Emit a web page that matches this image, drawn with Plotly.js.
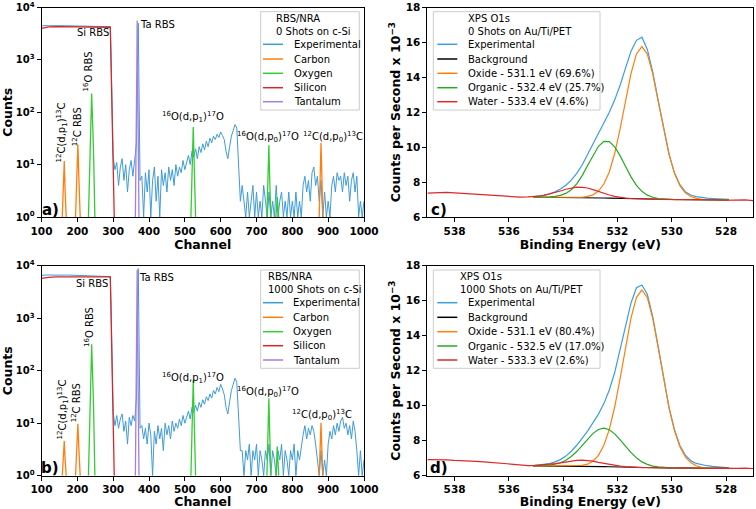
<!DOCTYPE html>
<html><head><meta charset="utf-8">
<script src="https://cdn.plot.ly/plotly-3.0.1.min.js"></script>
<style>html,body{margin:0;padding:0;background:#fff}#chart{width:756px;height:509px}</style>
</head><body><div id="chart"></div>
<script>
// ---------- RBS / NRA data ----------
const rbsHeadCh = [100,105,110,120,130,140,150,160,170,180,190,200,210,220,230,240,250,260,270,280,290,292,294,296,298];
const rbsHeadA = [4450,4500,4520,4480,4520,4500,4470,4500,4480,4460,4450,4440,4430,4450,4420,4400,4380,4400,4370,4350,4330,4300,1300,180,40];
const rbsHeadB = [6500,6600,6650,6650,6600,6700,6650,6600,6650,6600,6550,6600,6500,6550,6500,6450,6450,6400,6350,6300,6250,6200,1800,250,50];
const rbsTailStart = 300, rbsTailStep = 5;
const rbsTailA = [14,8,11,4,9,13,5,10,3,8,12,6,14,25,5000,5,
 6,1,7,3,8,1,5,9,2,6, 1,8,4,7,3,9,5,8,4,10, 6,9,7,12,8,11,15,10,18,14, 20,13,22,17,25,19,28,22,32,26, 35,30,38,33,42,36,30,18,13,22, 35,45,58,50,8,2,
 4,2,1,3,1,2,4,1,3,1, 2,1,4,2,1,3,1,2,1,4, 1,2,3,1,2,1,3,1,2,1, 3,1,2,1,4,6,3,5,2,7, 9,4,6,2,5,1,3,1,2,1, 4,6,3,7,5,6,3,7,4,6, 2,5,7,3,6,1,2,1,2];
const rbsTailB = [16,9,14,8,12,15,7,11,4,13,9,14,11,30,8800,8,
 9,5,8,4,10,6,1,7,4,9, 5,8,3,10,6,9,5,11,7,10, 8,12,9,14,10,13,17,12,20,16, 22,17,25,20,28,23,32,27,36,30, 42,36,48,40,55,45,35,20,15,26, 42,55,72,60,10,3,
 3,1,3,2,4,1,3,2,4,1, 3,2,1,3,2,4,1,3,2,1, 3,2,4,1,3,2,1,3,2,4, 1,3,2,4,6,9,5,8,6,9, 7,4,2,1,3,1,2,1,4,7, 5,9,6,10,7,11,13,8,10,6, 9,5,11,7,3,1,3,1,2];

const carbonCh = [158,161,163.5,166,169,null,195,198.5,201.5,204.5,208,null,875,877.5,880,882.5,885];
const carbonA  = [1,3,11.7,3,1,null,1,5,24.3,5,1,null,1,6,26,6,1];
const carbonB  = [1,2,4.6,2,1,null,1,3,9.7,3,1,null,1,3,10.2,3,1];
const oxygenCh = [231,235,240,245,249,null,517,520.5,523.5,526.5,530,null,729,732,734.5,737,740,null,754,758,762];
const oxygenA  = [1,20,227,20,1,null,1,8,52.5,8,1,null,1,5,23.5,5,1,null,1,2.37,1];
const oxygenB  = [1,25,317,25,1,null,1,9,66.5,9,1,null,1,6,29.8,6,1,null,1,3.6,1];
const siliconCh = [100,110,120,140,200,250,290,292,294,296,298,300,302,303];
const siliconA  = [4000,4150,4250,4300,4300,4300,4250,4200,900,200,45,10,2.2,1];
const siliconB  = [5750,5900,6000,6100,6150,6200,6250,6100,1300,280,60,13,2.8,1];
const tantalumCh = [362,364.5,366,367,368,369.5,372];
const tantalumA  = [1,20,700,5650,700,20,1];
const tantalumB  = [1,25,900,8300,900,25,1];

// ---------- XPS O1s data ----------
const xpsEV = [535.1,534.9,534.7,534.5,534.3,534.1,533.9,533.7,533.5,533.3,533.1,532.9,532.7,532.5,532.3,532.1,531.9,531.7,531.5,531.3,531.1,530.9,530.7,530.5,530.3,530.1,529.9,529.7,529.5,529.3,529.1,528.9,528.7,528.5,528.3,528.1,527.9];
const waterPreEV = [539.0,538.6,538.3,538.0,537.6,537.2,536.8,536.4,536.0,535.6,535.3];
const waterPostEV = [527.6,527.3,527.0];

const expC = [7.16,7.19,7.25,7.33,7.44,7.60,7.82,8.11,8.50,8.98,9.57,10.18,10.79,11.39,12.0,12.71,13.56,14.54,15.5,16.12,16.3,15.6,14.31,12.68,11.03,9.6,8.53,7.85,7.45,7.26,7.17,7.11,7.08,7.06,7.04,7.02,7.01];
const bgC = [7.13,7.13,7.13,7.13,7.13,7.13,7.12,7.12,7.12,7.11,7.11,7.10,7.10,7.09,7.08,7.07,7.06,7.05,7.04,7.03,7.03,7.02,7.02,7.01,7.01,7.01,7.00,7.00,7.00,7.00,7.00,6.99,6.99,6.99,6.98,6.98,6.98];
const oxideC = [7.13,7.13,7.13,7.13,7.13,7.13,7.12,7.12,7.13,7.13,7.18,7.27,7.48,7.89,8.58,9.65,11.06,12.67,14.22,15.34,15.76,15.33,14.20,12.63,11.01,9.59,8.50,7.80,7.38,7.17,7.07,7.01,7.00,6.99,6.98,6.98,6.98];
const organicC = [7.13,7.13,7.14,7.15,7.18,7.24,7.35,7.56,7.90,8.37,8.95,9.54,10.05,10.33,10.32,10.02,9.50,8.89,8.30,7.81,7.47,7.25,7.13,7.06,7.03,7.02,7.00,7.00,7.00,7.00,7.00,6.99,6.99,6.99,6.98,6.98,6.98];
const waterPreC = [7.37,7.39,7.41,7.38,7.34,7.30,7.25,7.19,7.15,7.14,7.15];
const waterC = [7.16,7.19,7.24,7.31,7.39,7.49,7.59,7.67,7.71,7.70,7.66,7.57,7.46,7.35,7.26,7.18,7.12,7.08,7.06,7.04,7.03,7.02,7.02,7.01,7.01,7.01,7.00,7.00,7.00,6.99,7.00,6.98,6.99,6.97,6.98,6.96,6.97];
const waterPostC = [6.96,6.98,6.94];

const expD = [6.57,6.60,6.63,6.69,6.79,6.92,7.12,7.40,7.74,8.13,8.55,9.03,9.52,10.12,10.9,11.91,13.18,14.59,15.87,16.74,16.9,16.37,15.09,13.38,11.55,9.89,8.63,7.73,7.17,6.86,6.70,6.62,6.57,6.53,6.51,6.47,6.45];
const bgD = [6.56,6.56,6.56,6.56,6.56,6.55,6.55,6.55,6.54,6.54,6.53,6.53,6.52,6.52,6.51,6.50,6.50,6.49,6.48,6.47,6.46,6.46,6.45,6.45,6.45,6.44,6.44,6.44,6.44,6.44,6.44,6.43,6.43,6.43,6.43,6.42,6.42];
const oxideD = [6.56,6.56,6.56,6.56,6.56,6.55,6.55,6.55,6.56,6.59,6.66,6.84,7.16,7.74,8.65,9.94,11.58,13.37,15.02,16.19,16.61,16.18,14.99,13.33,11.53,9.88,8.58,7.66,7.08,6.75,6.57,6.48,6.45,6.43,6.43,6.42,6.42];
const organicD = [6.56,6.57,6.58,6.61,6.66,6.74,6.88,7.10,7.38,7.73,8.08,8.42,8.64,8.72,8.63,8.39,8.05,7.68,7.32,7.02,6.79,6.65,6.55,6.50,6.47,6.45,6.44,6.44,6.44,6.44,6.44,6.43,6.43,6.43,6.43,6.42,6.42];
const waterPreD = [6.92,6.92,6.90,6.87,6.86,6.82,6.78,6.72,6.66,6.61,6.58];
const waterD = [6.57,6.59,6.61,6.64,6.69,6.73,6.79,6.85,6.88,6.89,6.87,6.83,6.76,6.70,6.64,6.58,6.55,6.52,6.49,6.48,6.46,6.46,6.45,6.45,6.45,6.44,6.44,6.45,6.44,6.43,6.44,6.43,6.44,6.42,6.43,6.42,6.43];
const waterPostD = [6.42,6.43,6.41];

const rbsLegendNames = ['Experimental','Carbon','Oxygen','Silicon','Tantalum'];
const xpsLegendNamesC = ['Experimental','Background','Oxide - 531.1 eV (69.6%)','Organic - 532.4 eV (25.7%)','Water - 533.4 eV (4.6%)'];
const xpsLegendNamesD = ['Experimental','Background','Oxide - 531.1 eV (80.4%)','Organic - 532.5 eV (17.0%)','Water - 533.3 eV (2.6%)'];
const legendTitleA = ['RBS/NRA','0 Shots on c-Si'];
const legendTitleB = ['RBS/NRA','1000 Shots on c-Si'];
const legendTitleC = ['XPS O1s','0 Shots on Au/Ti/PET'];
const legendTitleD = ['XPS O1s','1000 Shots on Au/Ti/PET'];
const rbsTicks = [100,200,300,400,500,600,700,800,900,1000];
const logTicks = [1,10,100,1000,10000];
const logTickText = ['10<sup>0</sup>','10<sup>1</sup>','10<sup>2</sup>','10<sup>3</sup>','10<sup>4</sup>'];
const xpsXTicks = [538,536,534,532,530,528];
const xpsYTicks = [6,8,10,12,14,16,18];

// ---------- build ----------
const W = 756, H = 509;
const F = 'DejaVu Sans, Verdana, sans-serif';
const px = v => v / W, py = v => 1 - v / H;
const tailCh = arr => arr.map((_, i) => rbsTailStart + i * rbsTailStep);

const cExpR = '#3f9bd8', cC = '#ff7f0e', cO = '#33cc33', cSi = '#d62728', cTa = '#a57ee0';
const cExpX = '#3a9ee0', cBg = '#000000', cOx = '#ff7f0e', cOr = '#22aa22', cW = '#e02828';
const rbsColors = [cExpR, cC, cO, cSi, cTa];
const xpsColors = [cExpX, cBg, cOx, cOr, cW];

function rbsTraces(xa, ya, head, tail, carb, oxy, sil, ta) {
  const common = {type:'scatter', mode:'lines', xaxis:xa, yaxis:ya, hoverinfo:'skip', showlegend:false};
  return [
    Object.assign({}, common, {name:rbsLegendNames[0], x:rbsHeadCh.concat(tailCh(tail)), y:head.concat(tail), line:{color:cExpR, width:1}}),
    Object.assign({}, common, {name:rbsLegendNames[1], x:carbonCh, y:carb, line:{color:cC, width:1.3}, connectgaps:false}),
    Object.assign({}, common, {name:rbsLegendNames[2], x:oxygenCh, y:oxy, line:{color:cO, width:1.3}, connectgaps:false}),
    Object.assign({}, common, {name:rbsLegendNames[3], x:siliconCh, y:sil, line:{color:cSi, width:1.3}}),
    Object.assign({}, common, {name:rbsLegendNames[4], x:tantalumCh, y:ta, line:{color:cTa, width:1.3}})
  ];
}
function xpsTraces(xa, ya, names, ex, bg, ox, org, wPre, w, wPost) {
  const common = {type:'scatter', mode:'lines', xaxis:xa, yaxis:ya, hoverinfo:'skip', showlegend:false};
  return [
    Object.assign({}, common, {name:names[0], x:xpsEV, y:ex, line:{color:cExpX, width:1.2}}),
    Object.assign({}, common, {name:names[1], x:xpsEV, y:bg, line:{color:cBg, width:1.1}}),
    Object.assign({}, common, {name:names[2], x:xpsEV, y:ox, line:{color:cOx, width:1.2}}),
    Object.assign({}, common, {name:names[3], x:xpsEV, y:org, line:{color:cOr, width:1.2}}),
    Object.assign({}, common, {name:names[4], x:waterPreEV.concat(xpsEV, waterPostEV), y:wPre.concat(w, wPost), line:{color:cW, width:1.2}})
  ];
}

const data = [].concat(
  rbsTraces('x','y', rbsHeadA, rbsTailA, carbonA, oxygenA, siliconA, tantalumA),
  rbsTraces('x2','y2', rbsHeadB, rbsTailB, carbonB, oxygenB, siliconB, tantalumB),
  xpsTraces('x3','y3', xpsLegendNamesC, expC, bgC, oxideC, organicC, waterPreC, waterC, waterPostC),
  xpsTraces('x4','y4', xpsLegendNamesD, expD, bgD, oxideD, organicD, waterPreD, waterD, waterPostD)
);

const tickFont = {family:F, size:10.5, color:'#000', weight:'bold'};
const logTickFont = {family:F, size:10, color:'#000', weight:'bold'};
const titleFont = {family:F, size:12.5, color:'#000', weight:'bold'};
const axBase = {showline:true, mirror:true, linecolor:'#000', linewidth:1, ticks:'outside', ticklen:4, tickwidth:1, tickcolor:'#000', showgrid:false, zeroline:false, tickfont:tickFont, fixedrange:true};

const rbsXDom = [px(41.5), px(364)];
const xpsXDom = [px(427.4), px(753.2)];
const topYDom = [py(217), py(7.5)];
const botYDom = [py(475.7), py(265.7)];

function rbsX(anchor) { return Object.assign({}, axBase, {anchor:anchor, domain:rbsXDom, range:[100,1000], tickvals:rbsTicks, title:{text:'Channel', font:titleFont, standoff:3}}); }
function rbsY(anchor, dom) { return Object.assign({}, axBase, {anchor:anchor, domain:dom, type:'log', range:[0,4], tickvals:logTicks, ticktext:logTickText.map(t => '<b>'+t+'</b>'), tickfont:logTickFont, title:{text:'Counts', font:titleFont, standoff:2}}); }
function xpsX(anchor) { return Object.assign({}, axBase, {anchor:anchor, domain:xpsXDom, range:[539,527], tickvals:xpsXTicks, title:{text:'Binding Energy (eV)', font:titleFont, standoff:3}}); }
function xpsY(anchor, dom) { return Object.assign({}, axBase, {anchor:anchor, domain:dom, range:[6,18], tickvals:xpsYTicks, title:{text:'Counts per Second x 10<sup>−3</sup>', font:titleFont, standoff:2}}); }

function ann(text, x, y, opts) {
  return Object.assign({text:text, x:px(x), y:py(y), xref:'paper', yref:'paper', showarrow:false,
    font:{family:F, size:10, color:'#000'}, xanchor:'center', yanchor:'middle'}, opts || {});
}
const panelFont = {family:F, size:15, color:'#000', weight:'bold'};
const annotations = [
  ann('Si RBS', 93, 33), ann('Ta RBS', 157, 24.5),
  ann('<sup>16</sup>O RBS', 87.7, 71.7, {textangle:-90}),
  ann('<sup>12</sup>C(d,p<sub>1</sub>)<sup>13</sup>C', 61.5, 133, {textangle:-90}),
  ann('<sup>12</sup>C RBS', 76.5, 126.7, {textangle:-90}),
  ann('<sup>16</sup>O(d,p<sub>1</sub>)<sup>17</sup>O', 193.3, 117.3),
  ann('<sup>16</sup>O(d,p<sub>0</sub>)<sup>17</sup>O', 268.3, 136.7),
  ann('<sup>12</sup>C(d,p<sub>0</sub>)<sup>13</sup>C', 333.3, 136.7),
  ann('a)', 50, 210.5, {font:panelFont}),
  ann('Si RBS', 91.7, 283.3), ann('Ta RBS', 156.7, 277.3),
  ann('<sup>16</sup>O RBS', 88.3, 326.7, {textangle:-90}),
  ann('<sup>12</sup>C(d,p<sub>1</sub>)<sup>13</sup>C', 62.5, 410, {textangle:-90}),
  ann('<sup>12</sup>C RBS', 76, 403.3, {textangle:-90}),
  ann('<sup>16</sup>O(d,p<sub>1</sub>)<sup>17</sup>O', 193.3, 377.7),
  ann('<sup>16</sup>O(d,p<sub>0</sub>)<sup>17</sup>O', 268.3, 391.7),
  ann('<sup>12</sup>C(d,p<sub>0</sub>)<sup>13</sup>C', 321.7, 415),
  ann('b)', 50, 468.3, {font:panelFont}),
  ann('c)', 439, 210.5, {font:panelFont}),
  ann('d)', 439, 468.3, {font:panelFont})
];

// manual matplotlib-style legends (box + swatches + real text)
const shapes = [];
function addLegend(box, titleLines, titleX, titleYs, names, colors, swX, textX, entryYs) {
  shapes.push({type:'rect', xref:'paper', yref:'paper', x0:px(box[0]), x1:px(box[2]), y0:py(box[3]), y1:py(box[1]),
    line:{color:'#cccccc', width:1}, fillcolor:'rgba(255,255,255,0.85)', layer:'above'});
  titleLines.forEach((t, i) => annotations.push(ann(t, titleX, titleYs[i], {xanchor:'left'})));
  names.forEach((n, i) => {
    shapes.push({type:'line', xref:'paper', yref:'paper', x0:px(swX[0]), x1:px(swX[1]), y0:py(entryYs[i]), y1:py(entryYs[i]),
      line:{color:colors[i], width:1.5}, layer:'above'});
    annotations.push(ann(n, textX, entryYs[i], {xanchor:'left'}));
  });
}
addLegend([260.7,11.7,359.3,110], legendTitleA, 274, [18.3,31], rbsLegendNames, rbsColors, [263,283], 291.7, [44.3,59,73.3,87.7,101.7]);
addLegend([260.7,270,359.3,368.3], legendTitleB, 265.7, [276.7,289.3], rbsLegendNames, rbsColors, [263,283], 290.7, [302.7,317.3,331.7,345.7,360]);
addLegend([433.3,11.7,600,110], legendTitleC, 466, [18.3,31], xpsLegendNamesC, xpsColors, [437.3,457.3], 466, [44.3,59,73.3,87.7,101.7]);
addLegend([433.3,270,600,368.3], legendTitleD, 458.3, [276.7,289.3], xpsLegendNamesD, xpsColors, [437.3,457.3], 466, [302.7,317.3,331.7,346,360]);

const layout = {
  width:W, height:H, margin:{l:0,r:0,t:0,b:0}, paper_bgcolor:'#fff', plot_bgcolor:'#fff',
  font:{family:F, color:'#000'}, showlegend:false,
  xaxis:rbsX('y'), yaxis:rbsY('x', topYDom),
  xaxis2:rbsX('y2'), yaxis2:rbsY('x2', botYDom),
  xaxis3:xpsX('y3'), yaxis3:xpsY('x3', topYDom),
  xaxis4:xpsX('y4'), yaxis4:xpsY('x4', botYDom),
  shapes:shapes, annotations:annotations
};

Plotly.newPlot('chart', data, layout, {displayModeBar:false, staticPlot:true});
</script></body></html>
